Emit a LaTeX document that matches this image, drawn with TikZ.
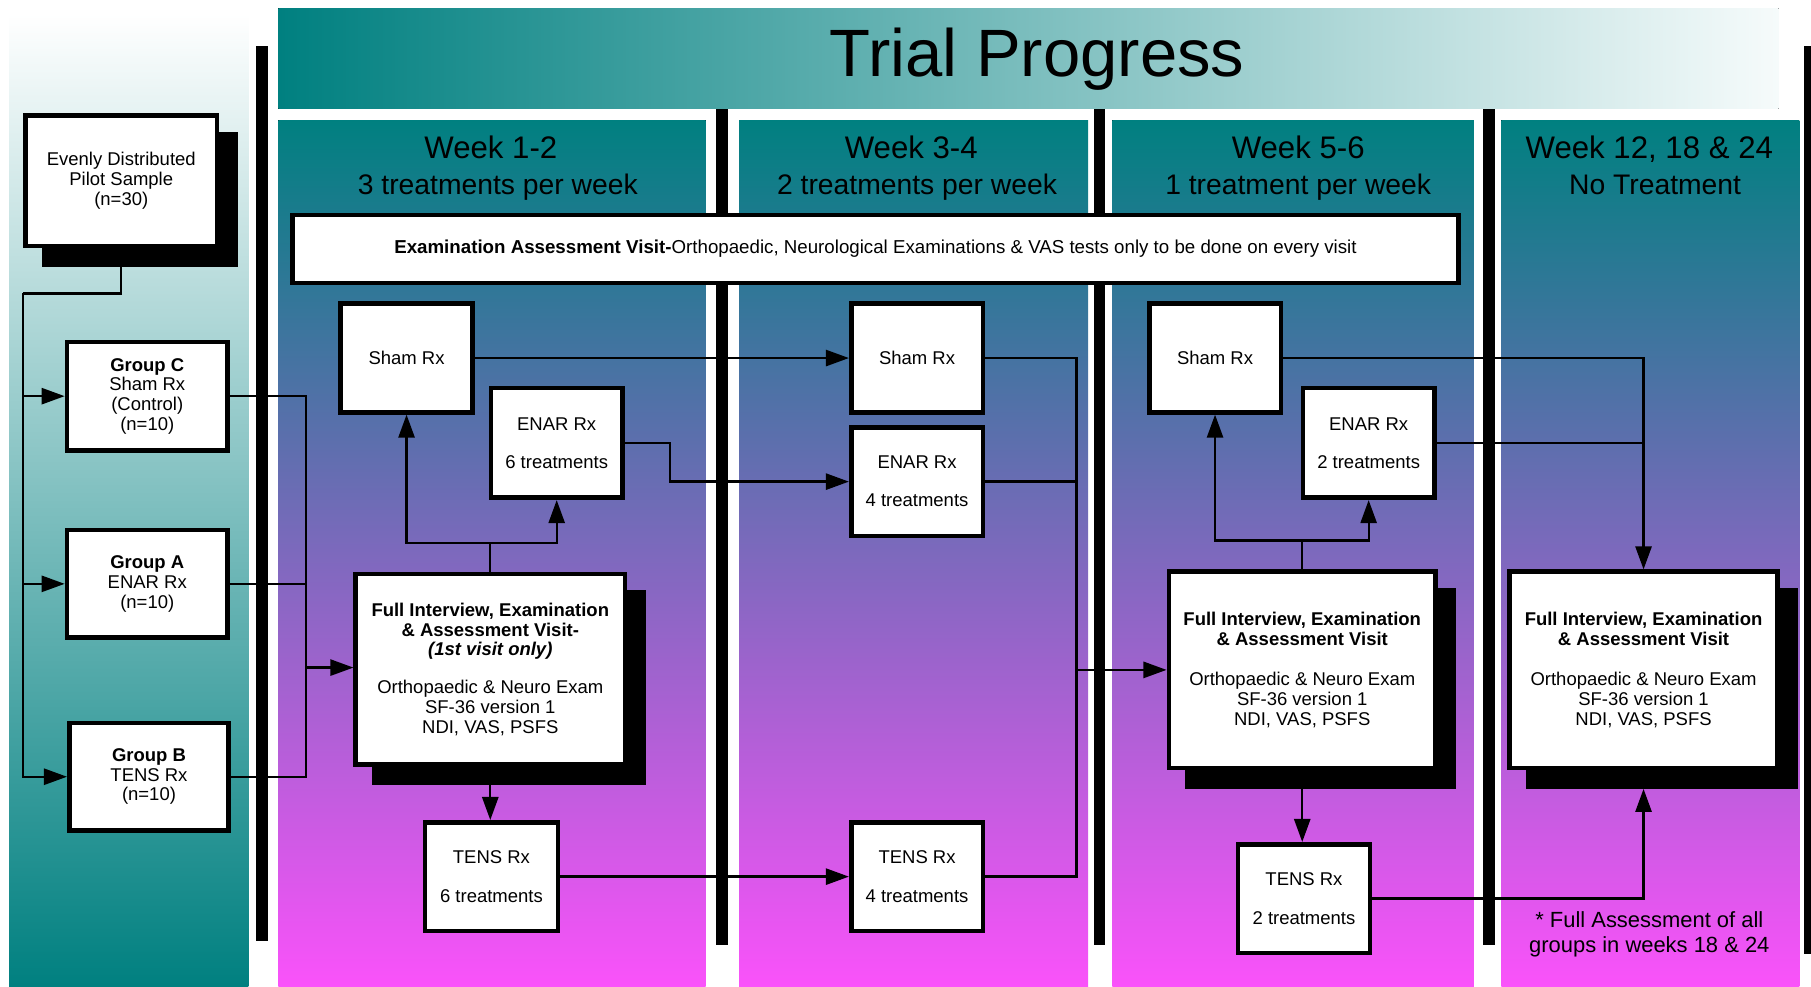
\documentclass[tikz,border=0pt]{standalone}
\usepackage{fontspec}
\setmainfont{Liberation Sans}
\usetikzlibrary{arrows.meta,shadows}

\definecolor{trialteal}{RGB}{0,128,128}
\definecolor{trialpink}{RGB}{250,82,250}
\definecolor{trialpale}{RGB}{246,251,251}

\tikzset{
	rxbox/.style={draw=black, line width=4pt, fill=white, align=center, inner sep=1pt, font=\fontsize{16}{17}\selectfont},
	fullbox/.style={rxbox, drop shadow={shadow xshift=16pt, shadow yshift=-16pt, fill=black, draw=black, line width=4pt, opacity=1}},
	link/.style={line width=2pt},
	linkarrow/.style={link, -{Triangle[length=20pt,width=14pt]}},
	weekpanel/.style={top color=trialteal, bottom color=trialpink},
	weeklabel/.style={anchor=base, font=\fontsize{27}{32}\selectfont},
	sublabel/.style={anchor=base, font=\fontsize{24.5}{32}\selectfont},
}

\begin{document}
\begin{tikzpicture}[x=1pt,y=-1pt]
		%%%%% START %%%%%
		\useasboundingbox (0,0) rectangle (1568,854);
		
		\fill[top color=white, bottom color=trialteal] (8,12) rectangle (215,854);
		\fill[left color=trialteal, right color=trialpale] (241,7) rectangle (1540,94);
		\node[font=\fontsize{58}{60}\selectfont] (title) at (898,51) {Trial Progress};
		
		\fill[weekpanel] (241,104) rectangle (611,854);
		\fill[weekpanel] (640,104) rectangle (942,854);
		\fill[weekpanel] (963,104) rectangle (1276,854);
		\fill[weekpanel] (1300,104) rectangle (1558,854);
		
		\fill (222,40) rectangle (232,815);
		\fill (620,94) rectangle (630,818);
		\fill (947,94) rectangle (957,818);
		\fill (1284,94) rectangle (1294,818);
		\fill (1562,40) rectangle (1568,826);
		
		\node[weeklabel] (wk12) at (425,137) {Week 1-2};
		\node[sublabel] (wk12sub) at (431,168) {3 treatments per week};
		\node[weeklabel] (wk34) at (789,137) {Week 3-4};
		\node[sublabel] (wk34sub) at (794,168) {2 treatments per week};
		\node[weeklabel] (wk56) at (1124,137) {Week 5-6};
		\node[sublabel] (wk56sub) at (1124,168) {1 treatment per week};
		\node[weeklabel] (wk24) at (1428,137) {Week 12, 18 \& 24};
		\node[sublabel] (wk24sub) at (1433,168) {No Treatment};
		
		\node[rxbox, minimum width=1010, minimum height=59, font=\fontsize{16.2}{17}\selectfont] (exam) at (758,215.5) {\textbf{Examination Assessment Visit-}Orthopaedic, Neurological Examinations \& VAS tests only to be done on every visit};
		
		% groups
		\node[fullbox, minimum width=166, minimum height=113] (pilot) at (105,156.5) {Evenly Distributed\\Pilot Sample\\(n=30)};
		\node[rxbox, minimum width=139, minimum height=94] (grpC) at (127.5,343) {\textbf{Group C}\\Sham Rx\\(Control)\\(n=10)};
		\node[rxbox, minimum width=139, minimum height=93] (grpA) at (127.5,505.5) {\textbf{Group A}\\ENAR Rx\\(n=10)};
		\node[rxbox, minimum width=138, minimum height=93] (grpB) at (129,672.5) {\textbf{Group B}\\TENS Rx\\(n=10)};
		
		% week 1-2
		\node[fullbox, minimum width=233, minimum height=165] (full1) at (424.5,579.5) {\textbf{Full Interview, Examination}\\\textbf{\& Assessment Visit-}\\\textbf{\textit{(1st visit only)}}\\[16pt]Orthopaedic \& Neuro Exam\\SF-36 version 1\\NDI, VAS, PSFS};
		\node[rxbox, minimum width=114, minimum height=94] (sham1) at (352,310) {Sham Rx};
		\node[rxbox, minimum width=114, minimum height=95] (enar1) at (482,383.5) {ENAR Rx\\[16pt]6 treatments};
		\node[rxbox, minimum width=115, minimum height=94] (tens1) at (425.5,759) {TENS Rx\\[16pt]6 treatments};
		
		% week 3-4
		\node[rxbox, minimum width=114, minimum height=94] (sham3) at (794,310) {Sham Rx};
		\node[rxbox, minimum width=114, minimum height=94] (enar3) at (794,417) {ENAR Rx\\[16pt]4 treatments};
		\node[rxbox, minimum width=114, minimum height=94] (tens3) at (794,759) {TENS Rx\\[16pt]4 treatments};
		
		% week 5-6
		\node[fullbox, minimum width=231, minimum height=170] (full5) at (1127.5,580) {\textbf{Full Interview, Examination}\\\textbf{\& Assessment Visit}\\[18pt]Orthopaedic \& Neuro Exam\\SF-36 version 1\\NDI, VAS, PSFS};
		\node[rxbox, minimum width=114, minimum height=94] (sham5) at (1052,310) {Sham Rx};
		\node[rxbox, minimum width=114, minimum height=95] (enar5) at (1185,383.5) {ENAR Rx\\[16pt]2 treatments};
		\node[rxbox, minimum width=114, minimum height=94] (tens5) at (1129,778) {TENS Rx\\[16pt]2 treatments};
		
		% week 12, 18 & 24
		\node[fullbox, minimum width=232, minimum height=170] (full12) at (1423,580) {\textbf{Full Interview, Examination}\\\textbf{\& Assessment Visit}\\[18pt]Orthopaedic \& Neuro Exam\\SF-36 version 1\\NDI, VAS, PSFS};
		\node[align=center, font=\fontsize{19}{22}\selectfont] (note) at (1428,809) {* Full Assessment of all\\groups in weeks 18 \& 24};
		
		\coordinate (split) at (20,254);
		\coordinate (merge1) at (265,578);
		\coordinate (fork1) at (424.5,470);
		\coordinate (merge2) at (932,580);
		\coordinate (fork5) at (1127.5,468);
		\coordinate (sh12) at (1423,683);
		
		\draw[link] (pilot.south) |- (split);
		\draw[linkarrow] (split) |- (grpC.west);
		\draw[linkarrow] (split) |- (grpA.west);
		\draw[linkarrow] (split) |- (grpB.west);
		
		\draw[link] (grpC.east) -| (merge1);
		\draw[link] (grpA.east) -| (merge1);
		\draw[link] (grpB.east) -| (merge1);
		\draw[linkarrow] (merge1) -- (merge1 -| full1.west);
		
		\draw[link] (full1.north) -- (fork1);
		\draw[linkarrow] (fork1) -| (sham1.south);
		\draw[linkarrow] (fork1) -| (enar1.south);
		\draw[linkarrow] (full1.south) -- (full1.south |- tens1.north);
		
		\draw[linkarrow] (sham1.east) -- (sham3.west);
		\draw[linkarrow] (enar1.east) -- ++(39,0) |- (enar3.west);
		\draw[linkarrow] (tens1.east) -- (tens3.west);
		
		\draw[link] (sham3.east) -| (merge2);
		\draw[link] (enar3.east) -| (merge2);
		\draw[link] (tens3.east) -| (merge2);
		\draw[linkarrow] (merge2) -- (merge2 -| full5.west);
		
		\draw[link] (full5.north) -- (fork5);
		\draw[linkarrow] (fork5) -| (sham5.south);
		\draw[linkarrow] (fork5) -| (enar5.south);
		\draw[linkarrow] (full5.south) -- (full5.south |- tens5.north);
		
		\draw[linkarrow] (sham5.east) -| (full12.north);
		\draw[link] (enar5.east) -- (enar5.east -| full12.north);
		\draw[linkarrow] (tens5.east) -| (sh12);
		
		%%%%% END %%%%%
	\end{tikzpicture}
\end{document}
